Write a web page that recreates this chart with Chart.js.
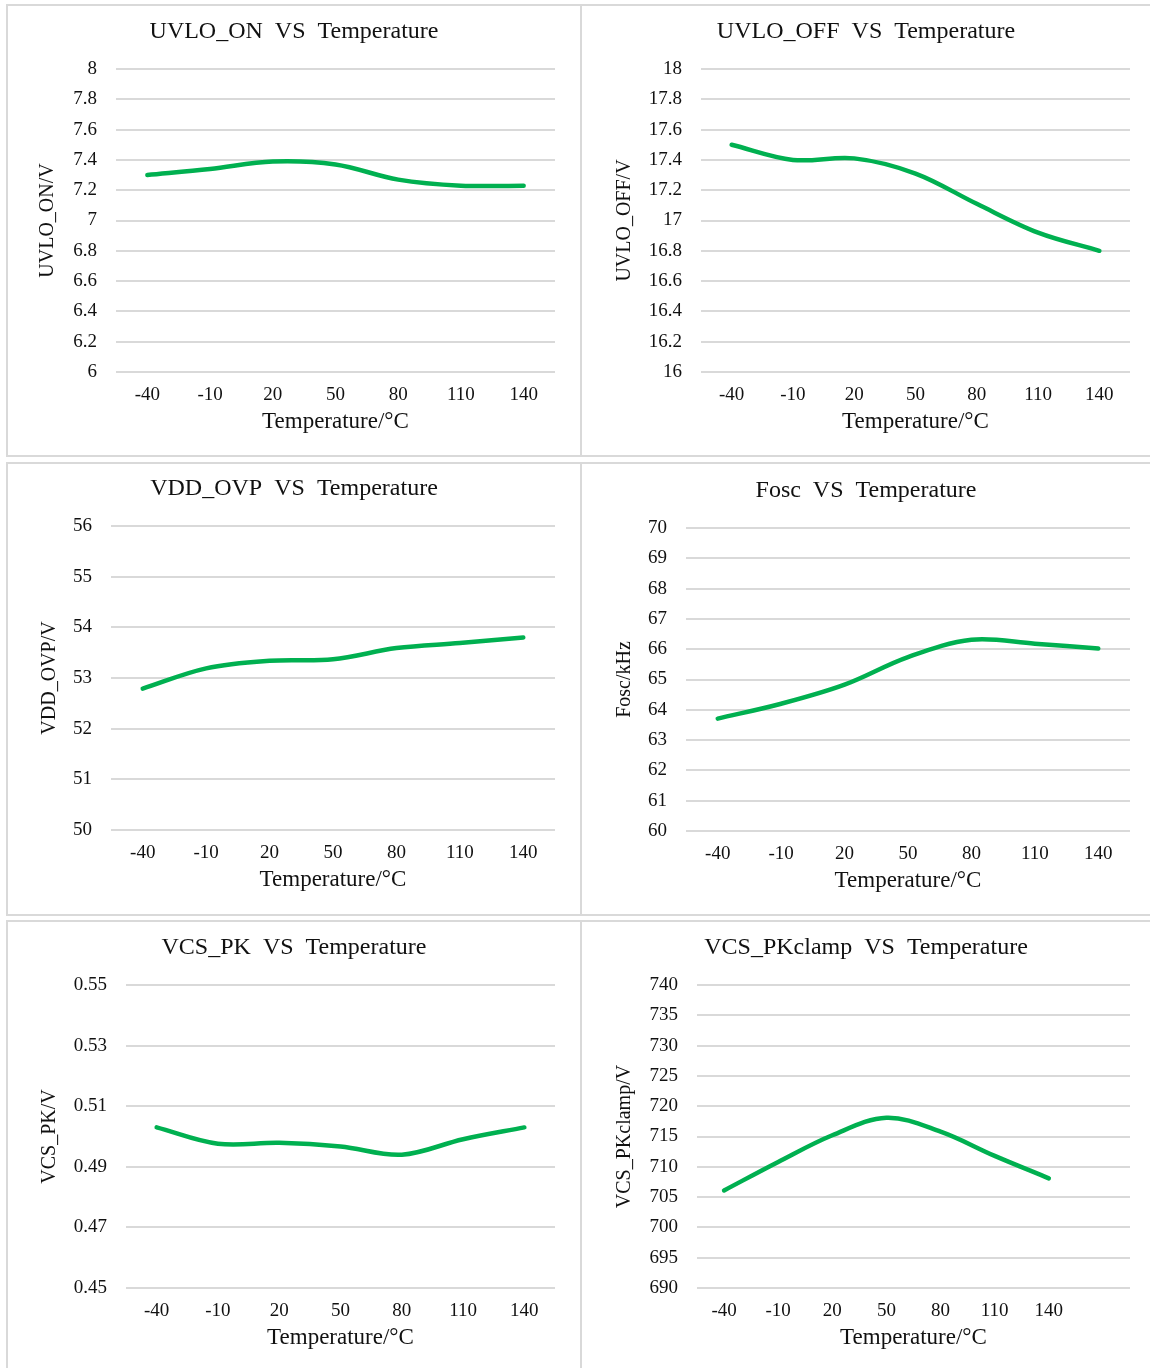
<!DOCTYPE html>
<html>
<head>
<meta charset="utf-8">
<script src="https://cdn.jsdelivr.net/npm/chart.js@4"></script>
<style>
  body { margin: 0; background: #fff; }
  #page { position: relative; width: 1150px; height: 1368px; overflow: hidden; background: #fff; }
  .panel { position: absolute; border: 2px solid #d9d9d9; box-sizing: border-box; }
  canvas { position: absolute; }
</style>
</head>
<body>
<div id="page"></div>
<script>
// Temperature categories (x axis)
const temps = ['-40', '-10', '20', '50', '80', '110', '140'];
// last chart has one empty slot on the right
const clampTemps = ['-40', '-10', '20', '50', '80', '110', '140', ''];

// Series values
const uvloOn = [7.30, 7.34, 7.39, 7.37, 7.27, 7.23, 7.23];
const uvloOff = [17.50, 17.40, 17.41, 17.31, 17.11, 16.92, 16.80];
const vddOvp = [52.79, 53.19, 53.34, 53.37, 53.59, 53.69, 53.80];
const fosc = [63.71, 64.20, 64.83, 65.74, 66.31, 66.18, 66.02];
const vcsPk = [0.503, 0.4976, 0.4979, 0.4967, 0.494, 0.4991, 0.503];
const vcsPkClamp = [706.1, 710.8, 715.2, 718.1, 715.8, 711.8, 708.1];

// Axis ranges [min, max, step]
const uvloOnRange = [6, 8, 0.2];
const uvloOffRange = [16, 18, 0.2];
const vddOvpRange = [50, 56, 1];
const foscRange = [60, 70, 1];
const vcsPkRange = [0.45, 0.55, 0.02];
const vcsPkClampRange = [690, 740, 5];

const FONT = "'Liberation Serif', 'Times New Roman', serif";
const GREEN = '#00b050';
const TEXT = '#111';

const charts = [
  { title: 'UVLO_ON  VS  Temperature', yTitle: 'UVLO_ON/V', labels: temps, data: uvloOn, range: uvloOnRange,
    box: [8, 6, 572, 449], area: [116, 69, 555, 372], yTitleX: 48 },
  { title: 'UVLO_OFF  VS  Temperature', yTitle: 'UVLO_OFF/V', labels: temps, data: uvloOff, range: uvloOffRange,
    box: [582, 6, 568, 449], area: [701, 69, 1130, 372], yTitleX: 625 },
  { title: 'VDD_OVP  VS  Temperature', yTitle: 'VDD_OVP/V', labels: temps, data: vddOvp, range: vddOvpRange,
    box: [8, 464, 572, 450], area: [111, 526, 555, 830], yTitleX: 50 },
  { title: 'Fosc  VS  Temperature', yTitle: 'Fosc/kHz', labels: temps, data: fosc, range: foscRange,
    box: [582, 464, 568, 450], area: [686, 528, 1130, 831], yTitleX: 625 },
  { title: 'VCS_PK  VS  Temperature', yTitle: 'VCS_PK/V', labels: temps, data: vcsPk, range: vcsPkRange,
    box: [8, 922, 572, 446], area: [126, 985, 555, 1288], yTitleX: 50 },
  { title: 'VCS_PKclamp  VS  Temperature', yTitle: 'VCS_PKclamp/V', labels: clampTemps, data: vcsPkClamp, range: vcsPkClampRange,
    box: [582, 922, 568, 446], area: [697, 985, 1130, 1288], yTitleX: 625 },
];

// panel frames (borders only)
const frames = [
  [6, 4, 576, 453], [580, 4, 572, 453],
  [6, 462, 576, 454], [580, 462, 572, 454],
  [6, 920, 576, 460], [580, 920, 572, 460],
];

const page = document.getElementById('page');
frames.forEach(f => {
  const d = document.createElement('div');
  d.className = 'panel';
  d.style.left = f[0] + 'px';
  d.style.top = f[1] + 'px';
  d.style.width = f[2] + 'px';
  d.style.height = f[3] + 'px';
  page.appendChild(d);
});

const titleSize = 24, tickSize = 19, xTitleSize = 23, yTitleSize = 20;

function drawChart(c) {
  const [bx, by, bw, bh] = c.box;
  const [al, at, ar, ab] = c.area;
  const canvas = document.createElement('canvas');
  canvas.width = bw;
  canvas.height = bh;
  canvas.style.left = bx + 'px';
  canvas.style.top = by + 'px';
  canvas.style.width = bw + 'px';
  canvas.style.height = bh + 'px';
  page.appendChild(canvas);

  const padR = bw - (ar - bx);
  const yWidth = (al - bx) - padR;
  const xHeight = bh - (ab - by);
  const titleLH = titleSize * 1.2;
  const titleMid = at - 37 - by;
  const xTitleLH = xTitleSize * 1.2;
  const yTitleLH = yTitleSize * 1.2;

  new Chart(canvas.getContext('2d'), {
    type: 'line',
    data: {
      labels: c.labels,
      datasets: [{
        data: c.data,
        borderColor: GREEN,
        borderWidth: 4.5,
        borderCapStyle: 'round',
        tension: 0.35,
        pointRadius: 0,
        fill: false,
      }],
    },
    options: {
      responsive: false,
      animation: false,
      layout: { padding: { left: padR, right: padR, top: 0, bottom: 0 } },
      plugins: {
        legend: { display: false },
        tooltip: { enabled: false },
        title: {
          display: true,
          text: c.title,
          color: TEXT,
          font: { family: FONT, size: titleSize, weight: 'normal' },
          padding: { top: titleMid - titleLH / 2, bottom: (at - by) - titleMid - titleLH / 2 },
        },
      },
      scales: {
        x: {
          offset: true,
          grid: { display: false },
          border: { display: false },
          ticks: { color: TEXT, font: { family: FONT, size: tickSize }, padding: 4, maxRotation: 0, autoSkip: false },
          title: {
            display: true,
            text: 'Temperature/°C',
            color: TEXT,
            font: { family: FONT, size: xTitleSize },
            padding: { top: 0, bottom: bh - (ab + 50 - by) - xTitleLH / 2 },
          },
          afterFit: scale => { scale.height = xHeight; },
        },
        y: {
          min: c.range[0],
          max: c.range[1],
          grid: { color: '#d9d9d9', lineWidth: 2, drawTicks: false },
          border: { display: false },
          ticks: {
            stepSize: c.range[2],
            color: TEXT,
            font: { family: FONT, size: tickSize },
            padding: 19,
            callback: v => String(Number(v.toFixed(3))),
          },
          title: {
            display: true,
            text: c.yTitle,
            color: TEXT,
            font: { family: FONT, size: yTitleSize },
            padding: { top: (c.yTitleX - bx) - padR - yTitleLH / 2, bottom: 0 },
          },
          afterFit: scale => { scale.width = yWidth; },
        },
      },
    },
  });
}

charts.forEach(drawChart);
</script>
</body>
</html>
